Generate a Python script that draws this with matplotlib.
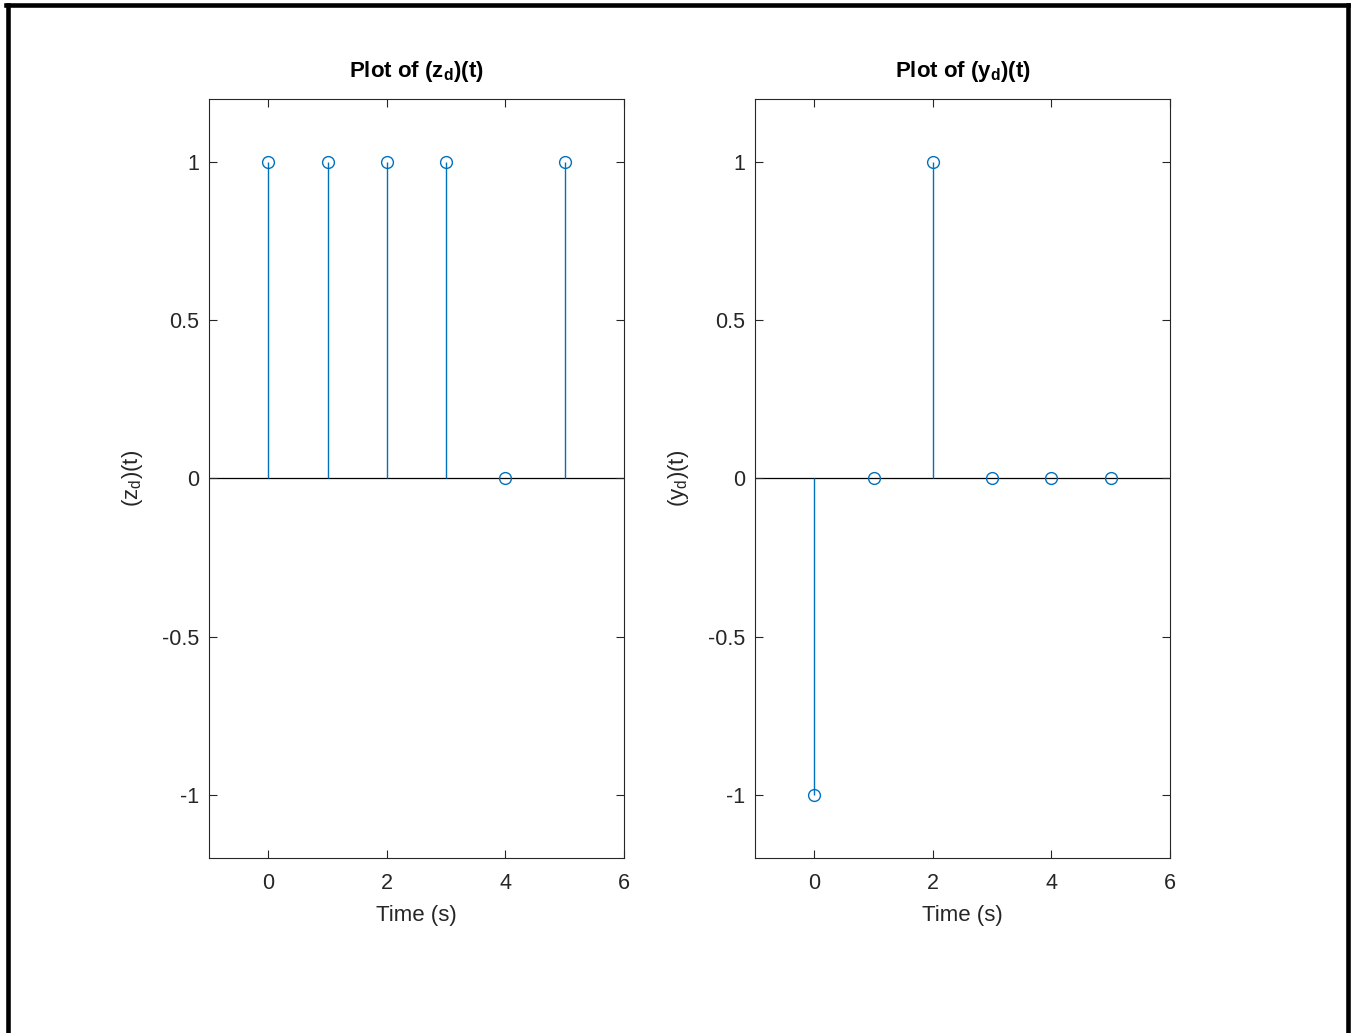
import matplotlib
matplotlib.use("Agg")
import matplotlib.pyplot as plt
from matplotlib.lines import Line2D

plt.rcParams["font.family"] = ["Liberation Sans", "DejaVu Sans"]
plt.rcParams["mathtext.fontset"] = "custom"
plt.rcParams["mathtext.rm"] = "Liberation Sans"
plt.rcParams["mathtext.bf"] = "Liberation Sans:bold"

# discrete time samples and the two signals
t = [0, 1, 2, 3, 4, 5]
z_d = [1, 1, 1, 1, 0, 1]
y_d = [-1, 0, 1, 0, 0, 0]

xticks = [0, 2, 4, 6]
yticks = [-1, -0.5, 0, 0.5, 1]
yticklabels = ["-1", "-0.5", "0", "0.5", "1"]

blue = "#0072BD"
gray = "#262626"

fig = plt.figure(figsize=(13.52, 10.33), dpi=100)

panels = [
    (0.1546, z_d, r"Plot of (z$_\mathbf{d}$)(t)", r"(z$_\mathrm{d}$)(t)"),
    (0.5584, y_d, r"Plot of (y$_\mathbf{d}$)(t)", r"(y$_\mathrm{d}$)(t)"),
]

for left, vals, title, ylabel in panels:
    ax = fig.add_axes([left, 0.1694, 0.307, 0.7348])
    ax.axhline(0, color="black", linewidth=0.9, zorder=1)
    ax.vlines(t, 0, vals, color=blue, linewidth=1.0, zorder=2)
    ax.plot(t, vals, "o", markerfacecolor="none", markeredgecolor=blue,
            markersize=8.5, markeredgewidth=1.0, zorder=3)
    ax.set_xlim(-1, 6)
    ax.set_ylim(-1.2, 1.2)
    ax.set_xticks(xticks)
    ax.set_yticks(yticks)
    ax.set_yticklabels(yticklabels)
    ax.tick_params(direction="in", length=6, width=0.8, top=True, right=True,
                   labelsize=15.5, colors=gray, pad=11)
    ax.tick_params(axis="y", pad=7)
    for s in ax.spines.values():
        s.set_color(gray)
        s.set_linewidth(0.8)
    ax.set_title(title, fontsize=16, fontweight="bold", pad=16)
    ax.set_xlabel("Time (s)", fontsize=16, color=gray, labelpad=8)
    ax.set_ylabel(ylabel, fontsize=16, color=gray, labelpad=12)

# black frame around the figure (left, top, right edges)
fig.add_artist(Line2D([0.0059, 0.0059], [0, 0.9955], color="black", linewidth=3.3, transform=fig.transFigure))
fig.add_artist(Line2D([0.0044, 0.9971], [0.9955, 0.9955], color="black", linewidth=3.3, transform=fig.transFigure))
fig.add_artist(Line2D([0.9971, 0.9971], [0, 0.9955], color="black", linewidth=3.3, transform=fig.transFigure))

fig.savefig("out.png", dpi=100)
